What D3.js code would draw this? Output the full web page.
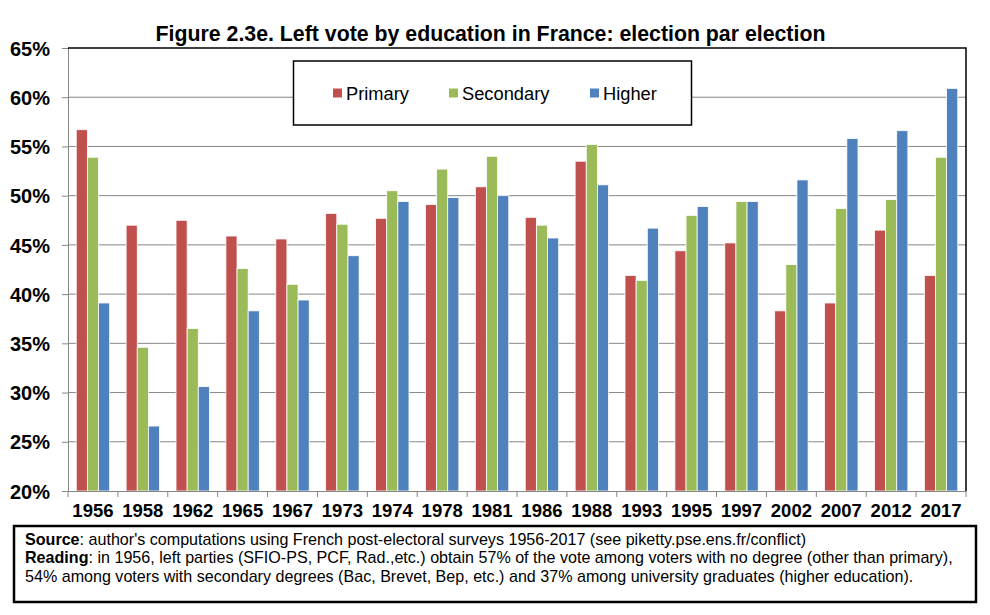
<!DOCTYPE html>
<html><head><meta charset="utf-8">
<script src="https://cdn.jsdelivr.net/npm/d3@7/dist/d3.min.js"></script>
<style>
html,body{margin:0;padding:0;background:#fff;}
svg{display:block;font-family:"Liberation Sans",Arial,sans-serif;}
</style></head>
<body><svg id="chart" width="990" height="615"></svg>
<script>
const years = ["1956","1958","1962","1965","1967","1973","1974","1978","1981","1986","1988","1993","1995","1997","2002","2007","2012","2017"];
const seriesNames = ["Primary","Secondary","Higher"];
const primary   = [56.7,47.0,47.5,45.9,45.6,48.2,47.7,49.1,50.9,47.8,53.5,41.9,44.4,45.2,38.3,39.1,46.5,41.9];
const secondary = [53.9,34.6,36.5,42.6,41.0,47.1,50.5,52.7,54.0,47.0,55.2,41.4,48.0,49.4,43.0,48.7,49.6,53.9];
const higher    = [39.1,26.6,30.6,38.3,39.4,43.9,49.4,49.8,50.0,45.7,51.1,46.7,48.9,49.4,51.6,55.8,56.6,60.9];
const colors = ["#C0504D","#9BBB59","#4F81BD"];
const yTicks = [20,25,30,35,40,45,50,55,60,65];

const svg = d3.select("#chart");
const L = 68, R = 966, T = 48, B = 491;

const x = d3.scaleBand().domain(years).range([L, R]).paddingInner(0.33).paddingOuter(0.165);
const xs = d3.scaleBand().domain(seriesNames).range([0, x.bandwidth()]).padding(0);
const y = d3.scaleLinear().domain([20, 65]).range([B, T]);

// title
svg.append("text").attr("x", 490.5).attr("y", 41).attr("text-anchor", "middle")
  .attr("font-weight", "bold").attr("font-size", 21.3).attr("fill", "#000")
  .text("Figure 2.3e. Left vote by education in France: election par election");

// gridlines
svg.append("g").selectAll("line").data(yTicks.filter(d => d > 20 && d < 65)).join("line")
  .attr("x1", L).attr("x2", R).attr("y1", d => y(d)).attr("y2", d => y(d))
  .attr("stroke", "#868686").attr("stroke-width", 1);

// bars
const data = years.map((yr, i) => ({year: yr, vals: [primary[i], secondary[i], higher[i]]}));
const groups = svg.append("g").selectAll("g").data(data).join("g")
  .attr("transform", d => `translate(${x(d.year)},0)`);
groups.selectAll("rect").data(d => d.vals.map((v, j) => ({name: seriesNames[j], v, j}))).join("rect")
  .attr("x", d => xs(d.name)).attr("width", xs.bandwidth())
  .attr("y", d => y(d.v)).attr("height", d => y(20) - y(d.v))
  .attr("fill", d => colors[d.j]).attr("stroke", "#fff").attr("stroke-width", 0.8);

// y axis
const yAxis = svg.append("g").attr("transform", `translate(${L},0)`)
  .call(d3.axisLeft(y).tickValues(yTicks).tickFormat(d => d + "%").tickSize(6).tickPadding(12));
yAxis.select(".domain").attr("stroke", "#868686");
yAxis.selectAll(".tick line").attr("stroke", "#868686");
yAxis.selectAll(".tick text").attr("font-size", 20).attr("font-weight", "bold")
  .attr("font-family", '"Liberation Sans",Arial,sans-serif').attr("fill", "#000").attr("dy", "0.36em");

// x axis
const xAxis = svg.append("g").attr("transform", `translate(0,${B})`)
  .call(d3.axisBottom(x).tickSize(0).tickPadding(13));
xAxis.select(".domain").attr("stroke", "#868686");
xAxis.selectAll(".tick text").attr("font-size", 18.5).attr("font-weight", "bold")
  .attr("font-family", '"Liberation Sans",Arial,sans-serif').attr("fill", "#000");
// tick marks at band boundaries
const boundaries = years.map(d => x(d) - x.step() * x.paddingInner() / 2).concat([R]);
svg.append("g").selectAll("line").data(boundaries).join("line")
  .attr("x1", d => d).attr("x2", d => d).attr("y1", B).attr("y2", B + 6)
  .attr("stroke", "#868686");

// top & right borders
svg.append("path").attr("d", `M${L},${T}H${R}V${B}`).attr("fill", "none")
  .attr("stroke", "#000").attr("stroke-width", 1.5);

// legend
const lg = svg.append("g");
lg.append("rect").attr("x", 293.5).attr("y", 61).attr("width", 398).attr("height", 64)
  .attr("fill", "#fff").attr("stroke", "#000").attr("stroke-width", 1.5);
const legX = [333, 449, 590];
seriesNames.forEach((n, i) => {
  lg.append("rect").attr("x", legX[i]).attr("y", 88.5).attr("width", 9).attr("height", 9).attr("fill", colors[i]);
  lg.append("text").attr("x", legX[i] + 13).attr("y", 99.5).attr("font-size", 18.3).attr("fill", "#000").text(n);
});

// footnote box
const fb = svg.append("g");
fb.append("rect").attr("x", 14).attr("y", 526).attr("width", 962).attr("height", 76)
  .attr("fill", "#fff").attr("stroke", "#000").attr("stroke-width", 2.5);
const notes = [
  ["Source", ": author's computations using French post-electoral surveys 1956-2017 (see piketty.pse.ens.fr/conflict)"],
  ["Reading", ": in 1956, left parties (SFIO-PS, PCF, Rad.,etc.) obtain 57% of the vote among voters with no degree (other than primary),"],
  ["", "54% among voters with secondary degrees (Bac, Brevet, Bep, etc.) and 37% among university graduates (higher education)."]
];
notes.forEach((ln, i) => {
  const t = fb.append("text").attr("x", 25).attr("y", 544.5 + i * 18.7).attr("font-size", 16.1).attr("fill", "#000");
  if (ln[0]) t.append("tspan").attr("font-weight", "bold").text(ln[0]);
  t.append("tspan").text(ln[1]);
});
</script></body></html>
